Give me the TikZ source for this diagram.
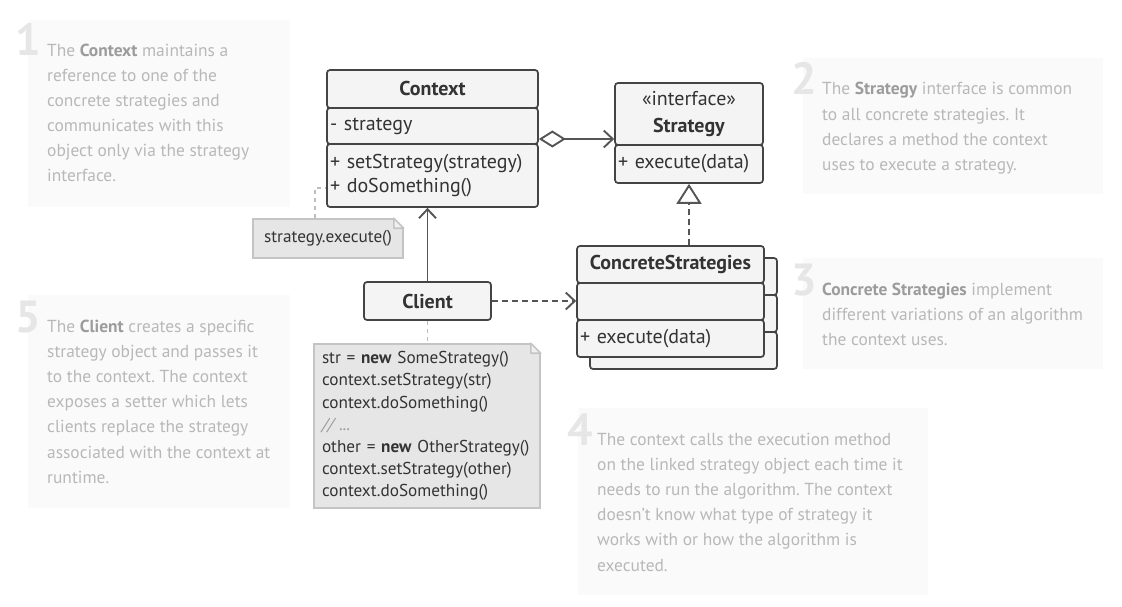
\documentclass[tikz,border=0pt]{standalone}
\usepackage{fontspec}
\setmainfont{PT Sans}
\usetikzlibrary{arrows.meta,calc}
\frenchspacing
\definecolor{boxline}{HTML}{444444}
\definecolor{boxfill}{HTML}{F4F4F4}
\definecolor{txt}{HTML}{333333}
\definecolor{conn}{HTML}{555555}
\definecolor{dotc}{HTML}{BDBDBD}
\definecolor{notefill}{HTML}{E6E6E6}
\definecolor{noteline}{HTML}{C4C4C4}
\definecolor{annfill}{HTML}{FAFAFA}
\definecolor{anntxt}{HTML}{B8B8B8}
\definecolor{annbold}{HTML}{9C9C9C}
\definecolor{digitc}{HTML}{E6E6E6}
\newcommand\annb[1]{{\bfseries\color{annbold}#1}}
\newcommand\notefold[1]{%
  \fill[white] ([xshift=-11.5pt,yshift=1pt]#1.north east) -- ([xshift=1pt,yshift=1pt]#1.north east) -- ([xshift=1pt,yshift=-11.5pt]#1.north east) -- cycle;
  \filldraw[draw=noteline,fill=notefill!60!white,line width=1.6pt,line join=round] ([xshift=-10pt]#1.north east) -- ([xshift=-10pt,yshift=-10pt]#1.north east) -- ([yshift=-10pt]#1.north east) -- cycle;}
\begin{document}
\begin{tikzpicture}[x=1pt,y=-1pt,
  cls/.style={draw=boxline, fill=boxfill, rounded corners=3pt, line width=1.7pt, inner sep=0pt, text=txt, font=\fontsize{20}{24}\selectfont},
  clsb/.style={cls, font=\bfseries\fontsize{20}{24}\selectfont},
  clsl/.style={cls, inner xsep=3pt, text width=#1, align=left},
  notebox/.style={draw=noteline, fill=notefill, line width=1.6pt, inner sep=0pt, text=txt, font=\fontsize{17.2}{22.2}\selectfont},
  annbox/.style={fill=annfill, draw=none, inner sep=0pt},
  anntext/.style={anchor=base west, inner sep=0pt, align=left, text=anntxt, font=\fontsize{17.4}{25.2}\selectfont},
  digit/.style={anchor=base east, inner sep=0pt, text=digitc, font=\bfseries\fontsize{45}{45}\selectfont},
  solidarrow/.style={draw=conn, line width=1.9pt, -{Straight Barb[length=9pt,width=17pt,line width=1.9pt]}},
  dasharrow/.style={solidarrow, dash pattern=on 6pt off 4pt},
  aggarrow/.style={draw=conn, line width=1.9pt, {Diamond[open,length=27pt,width=17pt,line width=1.9pt]}-{Straight Barb[length=9pt,width=17pt,line width=1.9pt]}},
  realarrow/.style={draw=conn, line width=1.9pt, dash pattern=on 6pt off 4pt, -{Triangle[open,length=20pt,width=25pt,line width=1.9pt]}},
  dotline/.style={draw=dotc, line width=1.8pt, dash pattern=on 4pt off 4pt}
]
\useasboundingbox (0,0) rectangle (1122,607);

% annotation panels
\node[annbox, minimum width=262pt, minimum height=187pt] (a1) at (159,113.5) {};
\node[annbox, minimum width=262pt, minimum height=213pt] (a5) at (159,401.5) {};
\node[annbox, minimum width=300pt, minimum height=136pt] (a2) at (953,126) {};
\node[annbox, minimum width=300pt, minimum height=111pt] (a3) at (953,313.5) {};
\node[annbox, minimum width=350pt, minimum height=187pt] (a4) at (753,501.5) {};

% (anchor = baseline of last line)
\node[digit] (d1) at (41,56) {1};
\node[anntext] (t1) at (47,182) {The \annb{Context} maintains a\\reference to one of the\\concrete strategies and\\communicates with this\\object only via the strategy\\interface.};
\node[digit] (d2) at (817,95) {2};
\node[anntext] (t2) at (822,170.6) {The \annb{Strategy} interface is common\\to all concrete strategies. It\\declares a method the context\\uses to execute a strategy.};
\node[digit] (d3) at (817,295) {3};
\node[anntext] (t3) at (822,345.4) {\annb{Concrete Strategies} implement\\different variations of an algorithm\\the context uses.};
\node[digit] (d4) at (593,445) {4};
\node[anntext] (t4) at (597,571) {The context calls the execution method\\on the linked strategy object each time it\\needs to run the algorithm. The context\\doesn’t know what type of strategy it\\works with or how the algorithm is\\executed.};
\node[digit] (d5) at (41,332) {5};
\node[anntext] (t5) at (47,483.2) {The \annb{Client} creates a specific\\strategy object and passes it\\to the context. The context\\exposes a setter which lets\\clients replace the strategy\\associated with the context at\\runtime.};

% Context
\node[clsb, minimum width=211pt, minimum height=38pt] (ctxhead) at (432.5,89) {Context};
\node[clsl=205pt, minimum width=211pt, minimum height=36pt] (ctxattr) at (432.5,126) {- strategy};
\node[clsl=205pt, minimum width=211pt, minimum height=63pt] (ctxops) at (432.5,175.5) {+ setStrategy(strategy)\\+ doSomething()};

% Strategy
\node[cls, minimum width=148pt, minimum height=62pt, align=center, font=\fontsize{20}{27}\selectfont] (strathead) at (689,114) {«interface»\\\textbf{Strategy}};
\node[clsl=142pt, minimum width=148pt, minimum height=38pt] (stratops) at (689,164) {+ execute(data)};

% Concrete strategies (back copy)
\node[cls, minimum width=187pt, minimum height=37pt] (csbhead) at (683.5,276.5) {};
\node[cls, minimum width=187pt, minimum height=37pt] (csbattr) at (683.5,313.5) {};
\node[cls, minimum width=187pt, minimum height=37pt] (csbops) at (683.5,350.5) {};
% front
\node[clsb, minimum width=187pt, minimum height=37pt] (cshead) at (670.5,264.5) {ConcreteStrategies};
\node[cls, minimum width=187pt, minimum height=37pt] (csattr) at (670.5,301.5) {};
\node[clsl=181pt, minimum width=187pt, minimum height=37pt] (csops) at (670.5,338.5) {+ execute(data)};

% Client
\node[clsb, minimum width=127pt, minimum height=38pt] (client) at (427.5,301) {Client};

% notes
\node[notebox, minimum width=150pt, minimum height=39pt] (note1) at (328,238.5) {strategy.execute()};
\notefold{note1}
\node[notebox, minimum width=226pt, minimum height=164pt, inner xsep=8pt, text width=210pt, align=left] (note2) at (427,426) {str = \textbf{new} SomeStrategy()\\context.setStrategy(str)\\context.doSomething()\\{\itshape\color{annbold}// ...}\\other = \textbf{new} OtherStrategy()\\context.setStrategy(other)\\context.doSomething()};
\notefold{note2}

% connectors
\draw[aggarrow] ([yshift=-13pt]ctxattr.east) -- ([yshift=-13pt]ctxattr.east -| strathead.west);
\draw[realarrow] (stratops.south |- cshead.north) -- (stratops.south);
\draw[solidarrow] (client.north) -- (client.north |- ctxops.south);
\draw[dasharrow] (client.east) -- (client.east -| csattr.west);
\draw[dotline] ([xshift=-13pt]note1.north) |- ([yshift=-12.5pt]ctxops.west);
\draw[dotline] (client.south) -- (client.south |- note2.north);
\end{tikzpicture}
\end{document}
